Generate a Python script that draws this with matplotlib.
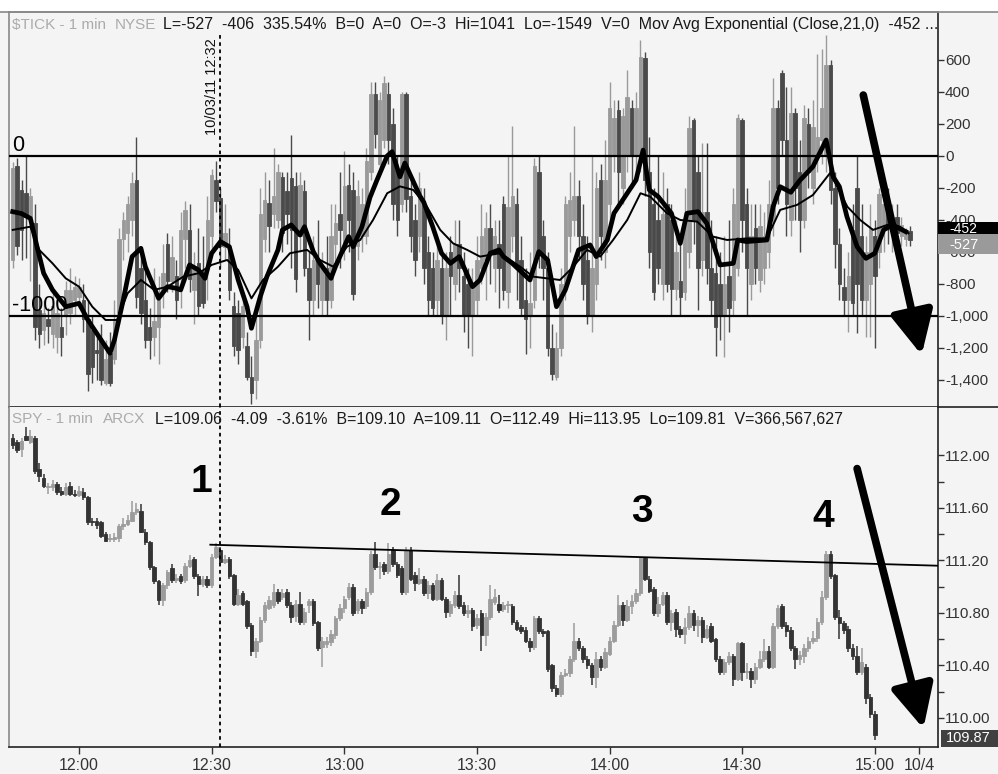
import matplotlib
matplotlib.use('Agg')
import matplotlib.pyplot as plt
import numpy as np
from matplotlib.patches import Rectangle
from matplotlib.lines import Line2D
import matplotlib.transforms as mtrans

plt.rcParams['font.family'] = ['Liberation Sans', 'DejaVu Sans']

# ---------------- DATA ----------------
# minute index 0 = 11:45 ... 195 = 15:00
spy_open = [112.13,112.10,112.05,112.15,112.10,112.13,111.90,111.83,111.76,111.76,
            111.78,111.73,111.71,111.77,111.71,111.70,111.72,111.68,111.50,111.50,
            111.49,111.40,111.36,111.36,111.37,111.46,111.48,111.50,111.57,111.58,
            111.42,111.34,111.15,111.04,110.90,111.01,111.14,111.05,111.08,111.05,
            111.16,111.21,111.08,111.02,111.06,111.01,111.23,111.28,111.19,111.21,
            111.09,110.87,110.95,110.89,110.71,110.51,110.59,110.75,110.84,110.86,
            110.96,110.92,110.96,110.86,110.78,110.87,110.73,110.86,110.89,110.73,
            110.54,110.56,110.58,110.63,110.76,110.84,110.92,111.00,110.82,110.89,
            110.85,110.96,111.25,111.15,111.17,111.12,111.28,111.17,111.14,110.96,
            111.28,111.09,111.03,111.06,110.95,111.01,110.91,111.05,110.91,110.80,
            110.86,110.94,110.86,110.80,110.82,110.71,110.80,110.63,110.77,110.88,
            110.87,110.83,110.86,110.85,110.73,110.69,110.67,110.59,110.54,110.76,
            110.66,110.66,110.40,110.23,110.18,110.33,110.34,110.45,110.59,110.53,
            110.45,110.40,110.31,110.45,110.39,110.49,110.59,110.71,110.86,110.75,
            110.85,110.89,110.95,111.22,111.06,110.98,110.80,110.87,110.94,110.73,
            110.81,110.68,110.64,110.69,110.80,110.71,110.75,110.62,110.70,110.60,
            110.45,110.35,110.43,110.47,110.30,110.57,110.35,110.36,110.30,110.39,
            110.45,110.51,110.39,110.70,110.85,110.71,110.67,110.53,110.45,110.47,
            110.53,110.59,110.61,110.73,110.92,111.25,111.09,110.77,110.72,110.68,
            110.53,110.47,110.35,110.39,110.16,110.03]
spy_close = [112.08,112.04,112.11,112.12,112.15,111.88,111.84,111.77,111.77,111.78,
             111.72,111.71,111.76,111.71,111.70,111.73,111.68,111.49,111.49,111.47,
             111.39,111.35,111.37,111.38,111.46,111.48,111.51,111.57,111.59,111.42,
             111.34,111.15,111.04,110.90,111.01,111.11,111.05,111.07,111.04,111.16,
             111.20,111.08,111.02,111.06,111.01,111.23,111.30,111.19,111.21,111.08,
             110.87,110.94,110.87,110.70,110.51,110.59,110.75,110.86,110.90,110.96,
             110.89,110.95,110.86,110.77,110.87,110.73,110.81,110.89,110.72,110.53,
             110.59,110.59,110.64,110.76,110.84,110.91,111.00,110.80,110.89,110.84,
             110.96,111.25,111.15,111.16,111.12,111.25,111.17,111.09,110.96,111.27,
             111.06,111.03,111.06,110.95,111.01,110.91,111.05,110.91,110.81,110.87,
             110.94,110.85,110.80,110.82,110.70,110.76,110.63,110.77,110.91,110.92,
             110.82,110.86,110.87,110.73,110.68,110.66,110.59,110.54,110.76,110.66,
             110.65,110.37,110.23,110.18,110.33,110.34,110.45,110.59,110.53,110.45,
             110.40,110.31,110.45,110.39,110.50,110.59,110.71,110.86,110.75,110.85,
             110.89,110.95,111.22,111.06,110.97,110.80,110.87,110.94,110.73,110.80,
             110.68,110.64,110.69,110.80,110.71,110.75,110.62,110.68,110.59,110.45,
             110.35,110.43,110.47,110.30,110.57,110.35,110.36,110.30,110.39,110.45,
             110.51,110.39,110.70,110.84,110.70,110.66,110.53,110.45,110.48,110.53,
             110.59,110.61,110.73,110.92,111.25,111.08,110.77,110.72,110.67,110.53,
             110.47,110.35,110.43,110.15,110.03,109.87]
spy_high = [112.16,112.12,112.13,112.22,112.19,112.15,111.94,111.86,111.79,111.81,
            111.80,111.76,111.79,111.80,111.74,111.77,111.75,111.69,111.52,111.52,
            111.50,111.42,111.40,111.41,111.48,111.52,111.55,111.65,111.64,111.63,
            111.44,111.35,111.16,111.05,111.03,111.13,111.17,111.10,111.10,111.18,
            111.24,111.23,111.10,111.08,111.08,111.25,111.33,111.30,111.24,111.23,
            111.10,110.98,110.97,110.90,110.72,110.61,110.77,110.88,110.93,111.02,
            110.98,110.98,110.98,110.88,110.90,110.96,110.84,110.91,110.91,110.74,
            110.62,110.62,110.67,110.78,110.87,110.93,111.03,111.02,110.91,110.91,
            110.99,111.27,111.34,111.19,111.19,111.33,111.30,111.19,111.16,111.30,
            111.30,111.11,111.14,111.08,111.04,111.03,111.10,111.07,110.92,110.89,
            110.97,111.09,110.88,110.86,110.84,110.79,110.82,110.80,111.01,110.98,
            110.94,110.88,110.89,110.87,110.75,110.71,110.69,110.61,110.78,110.78,
            110.68,110.67,110.41,110.25,110.35,110.37,110.47,110.72,110.61,110.55,
            110.47,110.42,110.50,110.47,110.53,110.62,110.74,110.94,110.88,110.90,
            110.94,110.98,111.23,111.23,111.08,111.00,110.92,110.96,110.96,110.82,
            110.83,110.70,110.76,110.85,110.82,110.78,110.77,110.71,110.72,110.61,
            110.47,110.45,110.50,110.49,110.58,110.58,110.42,110.38,110.42,110.51,
            110.60,110.55,110.72,110.86,110.87,110.73,110.69,110.55,110.51,110.56,
            110.62,110.66,110.76,110.97,111.27,111.27,111.10,110.82,110.74,110.70,
            110.56,110.55,110.53,110.41,110.18,110.05]
spy_low = [112.05,112.02,111.99,112.11,112.09,111.86,111.80,111.75,111.71,111.73,
           111.70,111.69,111.69,111.69,111.68,111.68,111.66,111.47,111.46,111.44,
           111.37,111.34,111.34,111.34,111.34,111.43,111.46,111.49,111.55,111.41,
           111.32,111.13,111.02,110.86,110.85,110.98,111.03,111.03,111.02,111.03,
           111.14,111.06,110.93,111.00,110.99,110.99,111.21,111.17,111.17,111.06,
           110.85,110.85,110.85,110.68,110.47,110.46,110.57,110.72,110.82,110.84,
           110.87,110.90,110.84,110.72,110.73,110.71,110.71,110.80,110.70,110.51,
           110.39,110.53,110.55,110.60,110.74,110.80,110.90,110.78,110.79,110.79,
           110.83,110.94,111.13,111.06,111.09,111.10,111.15,111.07,110.94,110.94,
           111.04,110.97,111.01,110.93,110.91,110.89,110.89,110.89,110.76,110.77,
           110.84,110.83,110.78,110.76,110.66,110.68,110.51,110.55,110.75,110.86,
           110.80,110.81,110.80,110.71,110.66,110.64,110.57,110.50,110.52,110.64,
           110.62,110.35,110.20,110.16,110.16,110.31,110.31,110.43,110.51,110.42,
           110.37,110.25,110.23,110.36,110.37,110.47,110.57,110.69,110.70,110.73,
           110.79,110.87,110.93,111.04,110.95,110.78,110.77,110.85,110.71,110.66,
           110.62,110.61,110.56,110.67,110.66,110.62,110.57,110.60,110.57,110.43,
           110.33,110.33,110.40,110.24,110.28,110.28,110.30,110.23,110.26,110.37,
           110.43,110.37,110.37,110.68,110.68,110.62,110.51,110.37,110.40,110.42,
           110.50,110.56,110.58,110.71,110.90,111.06,110.75,110.60,110.64,110.50,
           110.44,110.33,110.33,110.11,110.00,109.83]

# $TICK 1-min bars, minute 0 (11:45) .. 203
tick_open = [-650,-60,-210,-230,-380,-420,-960,-1090,-1020,-1110,
             -1130,-1070,-1000,-980,-900,-880,-900,-1020,-1090,-1210,
             -1150,-1420,-1230,-1270,-980,-520,-480,-400,-150,-700,
             -900,-1070,-1130,-1070,-840,-550,-780,-750,-770,-520,
             -460,-840,-670,-730,-700,-500,-150,-260,-570,-570,
             -940,-980,-1130,-1190,-1380,-1400,-1150,-520,-295,-360,
             -400,-130,-220,-140,-190,-500,-220,-700,-900,-650,
             -900,-700,-900,-550,-360,-550,-180,-210,-560,-500,
             -500,-100,390,-50,100,390,200,-100,-300,390,
             -250,-400,-500,-300,-600,-700,-900,-700,-1000,-600,
             -800,-550,-750,-800,-1000,-900,-700,-650,-450,-700,
             -550,-300,-850,-500,-300,-650,-900,-1000,-900,-100,
             -500,-700,-1200,-1380,-1200,-800,-500,-400,-250,-500,
             -650,-1000,-800,-150,-600,-300,0,290,-200,0,
             300,0,0,610,-100,-300,-400,-800,-300,-400,
             -830,-780,-850,-600,225,-100,-650,-350,-700,-733,
             -800,-1000,-750,-900,-700,225,-300,-800,-450,-775,
             -700,-600,-400,300,520,100,-400,270,-100,-400,
             200,-200,0,100,0,570,-200,-550,-820,-900,
             -460,-200,-500,-900,-800,-500,-600,-450,-300,-500,
             -380,-500,-520,-470]
tick_high = [-40,-10,-150,0,-200,-300,-800,-900,-950,-850,
             -900,-950,-780,-700,-750,-760,-800,-900,-1000,-1100,
             -1050,-1150,-1100,-900,-450,-350,-250,-100,120,-600,
             -700,-950,-700,-750,-550,-480,-500,-650,-350,-280,
             -300,-600,-450,-500,-250,-80,-30,-200,-300,-450,
             -850,-900,-850,-1100,-1250,-1000,-200,-100,-150,50,
             -50,-100,-100,130,-100,-100,-150,-600,-500,-400,
             -600,-500,-300,-300,-100,30,-50,-100,-150,-200,
             50,460,460,400,500,460,300,0,400,400,
             -150,-300,-100,-200,-500,-600,-500,-600,-600,-500,
             -400,-400,-600,-700,-700,-500,-300,-350,-300,-400,
             -400,-250,0,190,-200,-500,-700,-600,-10,0,
             -400,-600,-1050,-1100,-700,-250,-100,190,-150,-300,
             -500,0,-100,-50,100,460,350,350,300,540,
             350,400,725,650,120,-200,0,-100,-200,-300,
             -400,-500,-200,250,240,0,80,80,-400,-500,
             -600,-500,-400,-200,260,240,-200,-300,-300,-300,
             -350,-150,490,350,540,430,430,300,100,320,
             300,350,640,670,755,600,-100,-450,-700,-600,
             -300,0,-300,-500,-300,-400,-200,-233,-200,-300,
             -300,-380,-450,-440]
tick_low = [-700,-620,-650,-640,-780,-1150,-1200,-1180,-1170,-1200,
            -1230,-1250,-1120,-1050,-1000,-950,-1100,-1470,-1420,-1400,
            -1430,-1430,-1440,-1300,-1050,-650,-600,-500,-950,-1050,
            -1200,-1270,-1250,-1300,-950,-850,-850,-1020,-950,-700,
            -850,-1050,-1000,-950,-900,-600,-350,-700,-650,-900,
            -1250,-1300,-1200,-1400,-1549,-1520,-1200,-600,-600,-450,
            -450,-600,-550,-700,-850,-600,-750,-1150,-1000,-950,
            -1000,-1000,-950,-700,-700,-650,-600,-900,-650,-600,
            -550,-150,50,-100,50,-50,-400,-500,-350,-350,
            -600,-750,-600,-800,-1000,-1000,-1000,-1050,-1150,-1000,
            -900,-850,-1100,-1200,-1250,-1000,-800,-900,-800,-850,
            -950,-900,-950,-600,-900,-1000,-1240,-1200,-950,-700,
            -900,-1250,-1400,-1400,-1250,-900,-600,-500,-650,-900,
            -1050,-1100,-900,-650,-700,-400,-100,-300,-300,-100,
            -200,-150,-100,-250,-700,-900,-800,-900,-850,-1000,
            -900,-1000,-900,-700,-550,-960,-750,-800,-1000,-1250,
            -1150,-1254,-1100,-1000,-750,-600,-1000,-900,-800,-850,
            -800,-700,-500,-300,0,-500,-500,-400,-600,-450,
            -200,-300,-100,-50,-100,-300,-700,-900,-1000,-1100,
            -1000,-1108,-1000,-1130,-1130,-1200,-700,-600,-550,-600,
            -550,-560,-560,-560]
tick_close = [-75,-560,-460,-380,-250,-1070,-1110,-980,-1060,-940,
              -980,-1130,-840,-840,-820,-820,-1020,-1360,-1320,-1230,
              -1400,-1270,-1420,-1030,-520,-400,-300,-170,-880,-980,
              -1150,-1150,-1030,-900,-730,-780,-630,-900,-460,-340,
              -770,-690,-940,-920,-400,-120,-280,-560,-480,-840,
              -1190,-1210,-940,-1380,-1480,-1150,-360,-275,-440,-250,
              -100,-480,-360,-460,-770,-180,-700,-900,-650,-800,
              -700,-900,-500,-420,-460,-190,-400,-860,-250,-300,
              -30,390,140,350,455,100,-300,-400,390,-270,
              -500,-650,-200,-700,-900,-950,-650,-1000,-700,-750,
              -550,-700,-1000,-1000,-800,-650,-500,-450,-600,-500,
              -700,-840,-320,-250,-700,-950,-1020,-920,-60,-600,
              -700,-1200,-1360,-1200,-800,-300,-275,-250,-500,-800,
              -1000,-700,-200,-500,-150,300,240,-100,250,370,
              0,300,620,-150,-600,-850,-700,-360,-800,-830,
              -600,-880,-400,175,-400,-700,-350,-700,-900,-1067,
              -1000,-800,-950,-300,235,-400,-700,-500,-700,-440,
              -500,-300,300,-200,100,-300,270,-200,-400,235,
              -100,180,120,300,570,-210,-550,-800,-900,-750,
              -920,-800,-900,-600,-450,-750,-240,-300,-450,-400,
              -480,-430,-470,-527]

# Moving averages (minute, value)
ema_fast_t = [0,2,4,5.5,7,9,12,15,17,20,22,23,25,27,29,30,33,35,37,38,40,42,43.5,45,47,49,51,53,54,56,57.5,
              60,61,63,65,66,68,69.5,72,73,76,77,79,80.8,82.4,84.7,85.8,87.6,88.7,92.1,93,95,97,99,101,104,
              105.7,108,110,111,113,117,119,121,123,125,128,130.6,132,134.5,136,139,141,142.6,144,146,149,151,
              152.5,155,157,160,163,164,166,170.6,172,173.6,176,178,181,184,185.6,187,188.7,191,193,195,197,199,202]
ema_fast_v = [-348,-360,-390,-567,-733,-837,-942,-921,-1025,-1150,-1233,-1150,-900,-629,-577,-692,-890,-817,-827,-837,
              -681,-712,-765,-608,-535,-567,-775,-942,-1077,-879,-754,-587,-462,-431,-494,-442,-598,-671,-765,-692,
              -504,-567,-442,-260,-150,0,27,-130,-44,-250,-290,-442,-608,-671,-629,-817,-775,-608,-587,-629,-671,
              -775,-598,-650,-942,-837,-587,-556,-629,-525,-358,-233,-150,37,-212,-254,-358,-546,-358,-348,-421,
              -681,-671,-525,-535,-525,-317,-192,-227,-154,-67,100,-131,-192,-379,-567,-640,-608,-462,-431,-473]
ema_slow_t = [0,4,6,9,12,15,18,21,23.6,26,29,32,35,38.6,42,45,48.5,51,54,56.6,60,62.7,66.6,69.5,72.5,75.6,78.6,
              81.5,84.7,87.6,90.6,93.7,96.7,99.6,102.8,105.7,110.2,114.8,117.7,120.9,123.8,126.8,129.9,132.9,135.8,
              139,142,144.2,148,151,154.8,158.4,161.6,166.1,170.6,173.6,177.4,181,184.9,188.8,191.7,194.6,197.8,
              200.7,202.6]
ema_slow_v = [-462,-442,-587,-671,-765,-817,-942,-1025,-1025,-858,-775,-837,-817,-754,-733,-681,-650,-712,-890,-775,
              -692,-608,-587,-650,-692,-567,-525,-400,-233,-190,-212,-317,-462,-546,-587,-629,-608,-692,-754,-765,
              -775,-692,-587,-629,-525,-400,-233,-254,-358,-400,-410,-504,-525,-515,-515,-337,-306,-244,-106,-317,
              -400,-462,-431,-442,-483]

trend_t = [44.7, 209.3]
trend_p = [111.32, 111.16]

time_ticks = [15, 45, 75, 105, 135, 165, 195, 205]
time_labels = ['12:00', '12:30', '13:00', '13:30', '14:00', '14:30', '15:00', '10/4']
tick_axis = [600, 400, 200, 0, -200, -400, -600, -800, -1000, -1200, -1400]
spy_axis = [110.0, 110.4, 110.8, 111.2, 111.6, 112.0]
spy_minor = [110.2, 110.6, 111.0, 111.4, 111.8]

peaks_t = [42.6, 85.4, 142.4, 183.3]
peaks_p = [111.80, 111.62, 111.57, 111.53]
peaks_lab = ['1', '2', '3', '4']

# ---------------- FIGURE ----------------
W, H = 998, 774
fig = plt.figure(figsize=(W / 100, H / 100), dpi=100)
fig.patch.set_facecolor('#f4f4f4')


def px_rect(x0, y0, x1, y1):
    return [x0 / W, 1 - y1 / H, (x1 - x0) / W, (y1 - y0) / H]


fig.add_artist(Rectangle((0, 1 - 12 / H), 1, 12 / H, transform=fig.transFigure,
                         facecolor='white', edgecolor='none', zorder=0))
fig.add_artist(Line2D([0, 1], [1 - 12 / H] * 2, transform=fig.transFigure, color='#888888', lw=1.2))
fig.add_artist(Line2D([938 / W, 1], [1 - 407 / H] * 2, transform=fig.transFigure, color='#222222', lw=1.2))

ax1 = fig.add_axes(px_rect(9, 12, 938, 407))
ax2 = fig.add_axes(px_rect(9, 407, 938, 747))
XL = (-0.84, 209.3)
for ax in (ax1, ax2):
    ax.set_facecolor('#f4f4f4')
    ax.set_xlim(*XL)
    ax.spines['left'].set_color('#888888')
    ax.spines['right'].set_color('#222222')
    ax.spines['bottom'].set_color('#222222')
    ax.spines['top'].set_color('#888888')
    for s in ax.spines.values():
        s.set_linewidth(1.2)
ax2.spines['top'].set_visible(False)

ax1.set_ylim(-1569, 900)
ax2.set_ylim(109.779, 112.369)


def draw_candles(ax, o, h, l, c, up, down, width, wlw):
    o = np.asarray(o, float); h = np.asarray(h, float)
    l = np.asarray(l, float); c = np.asarray(c, float)
    t = np.arange(len(o))
    cols = np.where(c >= o, up, down)
    ax.vlines(t, l, h, colors=cols, lw=wlw, zorder=2)
    ax.bar(t, c - o, bottom=o, width=width, color=cols, edgecolor=cols, linewidth=0.6, zorder=3)


draw_candles(ax1, tick_open, tick_high, tick_low, tick_close, '#9a9a9a', '#4a4a4a', 0.78, 1.0)
draw_candles(ax2, spy_open, spy_high, spy_low, spy_close, '#9c9c9c', '#333333', 0.8, 1.1)

# top panel lines
ax1.axhline(0, color='black', lw=1.6, zorder=4)
ax1.axhline(-1000, color='black', lw=1.6, zorder=4)
ax1.plot(ema_slow_t, ema_slow_v, color='black', lw=1.4, zorder=5)
ax1.plot(ema_fast_t, ema_fast_v, color='black', lw=3.4, zorder=6, solid_joinstyle='round')
ax1.text(-0.2, 31, '0', fontsize=15.5, ha='left', va='baseline', zorder=7)
ax1.text(-0.2, -969, '-1000', fontsize=15.5, ha='left', va='baseline', zorder=4)

# dotted time cursor
ax1.axvline(47, ymin=0, ymax=0.947, color='black', lw=1.3, ls=(0, (2, 2)), zorder=7)
ax2.axvline(47, color='black', lw=1.3, ls=(0, (2, 2)), zorder=7)
ax1.text(46.6, 431, '10/03/11 12:32', rotation=90, fontsize=10.5, ha='right', va='center', color='#111111')

# trend line & peak labels
ax2.plot(trend_t, trend_p, color='black', lw=1.3, zorder=4)
for t, p, s in zip(peaks_t, peaks_p, peaks_lab):
    ax2.text(t, p, s, fontsize=28, fontweight='bold', ha='center', va='center', color='black')

# arrows
astyle = dict(arrowstyle='-|>,head_length=0.65,head_width=0.32', lw=5.5, color='black',
              mutation_scale=40, shrinkA=0, shrinkB=0)
ax1.annotate('', xy=(205.6, -1244), xytext=(192.4, 381), arrowprops=astyle, annotation_clip=False, zorder=8)
ax2.annotate('', xy=(206.0, 109.92), xytext=(191.0, 111.90), arrowprops=astyle, annotation_clip=False, zorder=8)

# axes ticks
ax1.set_xticks([])
ax1.yaxis.tick_right()
ax1.set_yticks(tick_axis)
ax1.set_yticklabels(['{:,.0f}'.format(v) for v in tick_axis])
ax2.yaxis.tick_right()
ax2.set_yticks(spy_axis)
ax2.set_yticklabels(['{:.2f}'.format(v) for v in spy_axis])
ax2.set_yticks(spy_minor, minor=True)
ax2.set_xticks(time_ticks)
ax2.set_xticklabels(time_labels)
for ax in (ax1, ax2):
    ax.tick_params(axis='y', which='both', direction='out', length=4, width=1, color='#333333',
                   labelsize=11, labelcolor='#333333', pad=1)
ax2.tick_params(axis='x', direction='out', length=5, width=1, color='#333333', labelsize=11.5,
                labelcolor='#333333', pad=3)

# value boxes on right axis
bt1 = mtrans.blended_transform_factory(ax1.transAxes, ax1.transData)
bt2 = mtrans.blended_transform_factory(ax2.transAxes, ax2.transData)
bw = (998 - 938) / 929
ax1.add_patch(Rectangle((1.0, -490), bw, 75, transform=bt1, facecolor='black', edgecolor='none',
                        clip_on=False, zorder=10))
ax1.text(1.012, -455, '-452', transform=bt1, color='white', fontsize=10, va='center', ha='left',
         clip_on=False, zorder=11)
ax1.add_patch(Rectangle((1.0, -612), bw, 122, transform=bt1, facecolor='#9a9a9a', edgecolor='none',
                        clip_on=False, zorder=10))
ax1.text(1.012, -555, '-527', transform=bt1, color='white', fontsize=10.5, va='center', ha='left',
         clip_on=False, zorder=11)
ax2.add_patch(Rectangle((1.003, 109.779), bw, 0.13, transform=bt2, facecolor='#404040', edgecolor='none',
                        clip_on=False, zorder=10))
ax2.text(1.008, 109.845, '109.87', transform=bt2, color='white', fontsize=10.5, va='center', ha='left',
         clip_on=False, zorder=11)

# header texts
def hdr(x, y, s, color, fs=11.5):
    fig.text(x / W, 1 - y / H, s, color=color, fontsize=fs, va='center', ha='left')

gray = '#ababab'
dark = '#1a1a1a'
hdr(12, 25, '$TICK - 1 min', gray, 11)
hdr(115, 25, 'NYSE', gray, 11)
hdr(163, 25, 'L=-527  -406  335.54%  B=0  A=0  O=-3  Hi=1041  Lo=-1549  V=0  '
             'Mov Avg Exponential (Close,21,0)  -452 ...', dark)
hdr(12, 419, 'SPY - 1 min', gray, 11)
hdr(103, 419, 'ARCX', gray, 11)
hdr(155, 419, 'L=109.06  -4.09  -3.61%  B=109.10  A=109.11  O=112.49  Hi=113.95  '
              'Lo=109.81  V=366,567,627', dark)

fig.savefig('out.png', dpi=100, facecolor=fig.get_facecolor())
